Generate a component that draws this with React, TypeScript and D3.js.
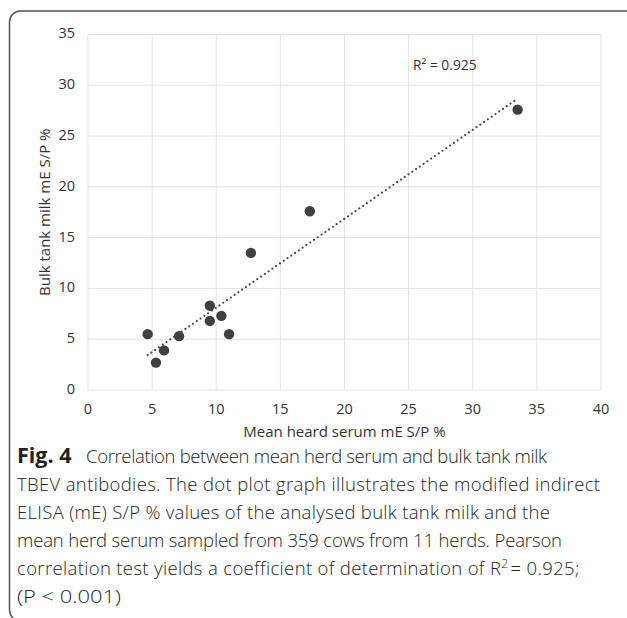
import React from "react";
import * as d3 from "d3";

const serumX = [4.65, 5.3, 5.93, 7.1, 9.5, 9.5, 10.4, 11.0, 12.7, 17.3, 33.5];
const milkY = [5.5, 2.7, 3.9, 5.3, 8.3, 6.8, 7.3, 5.5, 13.5, 17.6, 27.6];
const xTicks = [0, 5, 10, 15, 20, 25, 30, 35, 40];
const yTicks = [0, 5, 10, 15, 20, 25, 30, 35];
const r2Label = "0.925";
const xTitle = "Mean heard serum mE S/P %";
const yTitle = "Bulk tank milk mE S/P %";
const figLabel = "Fig. 4";
const captionTitle = "Correlation between mean herd serum and bulk tank milk";
const captionLines = [
  "TBEV antibodies. The dot plot graph illustrates the modified indirect",
  "ELISA (mE) S/P % values of the analysed bulk tank milk and the",
  "mean herd serum sampled from 359 cows from 11 herds. Pearson",
];
const captionTail = "correlation test yields a coefficient of determination of R";
const captionLast = "(P < 0.001)";

// layout (pixel widths of caption lines)
const lineWidths = [583, 533, 545];

const W = 627;
const H = 618;
const L = 88, R = 601, T = 34.5, B = 390;

export default function App() {
  const x = d3.scaleLinear().domain([0, 40]).range([L, R]);
  const y = d3.scaleLinear().domain([0, 35]).range([B, T]);
  const pts = serumX.map((v, i) => [v, milkY[i]] as [number, number]);
  const mx = d3.mean(serumX)!;
  const my = d3.mean(milkY)!;
  const sxy = d3.sum(pts, (p) => (p[0] - mx) * (p[1] - my));
  const sxx = d3.sum(serumX, (v) => (v - mx) ** 2);
  const slope = sxy / sxx;
  const icpt = my - slope * mx;
  const [x0, x1] = d3.extent(serumX) as [number, number];
  const line = d3.line<number>().x((v) => x(v)).y((v) => y(slope * v + icpt));
  const tickFont = "'Open Sans', sans-serif";
  const capFont = "'Open Sans', sans-serif";
  const capColor = "#231f20";
  const tickColor = "#333";
  const capSize = 18.5;
  return (
    <svg width={W} height={H} style={{ position: "absolute", left: 0, top: 0 }}>
      <rect x={0} y={0} width={W} height={H} fill="#fff" />
      <rect x={9.5} y={11} width={700} height={610} rx={11} ry={11} fill="none" stroke="#555" strokeWidth={1.5} />
      {xTicks.map((t) => (
        <line key={"gx" + t} x1={x(t)} x2={x(t)} y1={T} y2={B} stroke="#e3e3e3" strokeWidth={1} />
      ))}
      {yTicks.map((t) => (
        <line key={"gy" + t} x1={L} x2={R} y1={y(t)} y2={y(t)} stroke="#e3e3e3" strokeWidth={1} />
      ))}
      {xTicks.map((t) => (
        <text key={"tx" + t} x={x(t)} y={B + 20} textAnchor="middle" dominantBaseline="middle" fontFamily={tickFont} fontSize={14.5} fill={tickColor}>
          {t}
        </text>
      ))}
      {yTicks.map((t) => (
        <text key={"ty" + t} x={L - 13} y={y(t)} textAnchor="end" dominantBaseline="middle" fontFamily={tickFont} fontSize={14.5} fill={tickColor}>
          {t}
        </text>
      ))}
      <text x={(L + R) / 2} y={433} textAnchor="middle" dominantBaseline="middle" fontFamily={tickFont} fontSize={15} fill={tickColor}>
        {xTitle}
      </text>
      <text transform={`translate(46,${(T + B) / 2}) rotate(-90)`} textAnchor="middle" dominantBaseline="middle" fontFamily={tickFont} fontSize={15} fill={tickColor}>
        {yTitle}
      </text>
      <path d={line([x0, x1]) || ""} fill="none" stroke="#454545" strokeWidth={2.2} strokeDasharray="0 4.6" strokeLinecap="round" />
      {pts.map((p, i) => (
        <circle key={i} cx={x(p[0])} cy={y(p[1])} r={5.2} fill="#404040" />
      ))}
      <text x={413} y={66} dominantBaseline="middle" fontFamily={tickFont} fontSize={13.8} fill={tickColor}>
        {"R² = " + r2Label}
      </text>
      <text x={17} y={463} fontFamily={capFont} fontSize={21.5} fill={capColor} fontWeight="bold">
        {figLabel}
      </text>
      <text x={86} y={463} fontFamily={capFont} fontSize={capSize} fill={capColor} fontWeight={300} textLength={461} lengthAdjust="spacing">
        {captionTitle}
      </text>
      {captionLines.map((s, i) => (
        <text key={i} x={17} y={491 + i * 28} fontFamily={capFont} fontSize={capSize} fill={capColor} fontWeight={300} textLength={lineWidths[i]} lengthAdjust="spacing">
          {s}
        </text>
      ))}
      <text x={17} y={575} fontFamily={capFont} fontSize={capSize} fill={capColor} fontWeight={300} letterSpacing={0.35}>
        <tspan>{captionTail}</tspan>
        <tspan dy={-7} fontSize={12}>2</tspan>
        <tspan dy={7} dx={2}>{"= " + r2Label + ";"}</tspan>
      </text>
      <text x={17} y={603} fontFamily={capFont} fontSize={capSize} fill={capColor} fontWeight={300} textLength={104} lengthAdjust="spacingAndGlyphs">
        {captionLast}
      </text>
    </svg>
  );
}
